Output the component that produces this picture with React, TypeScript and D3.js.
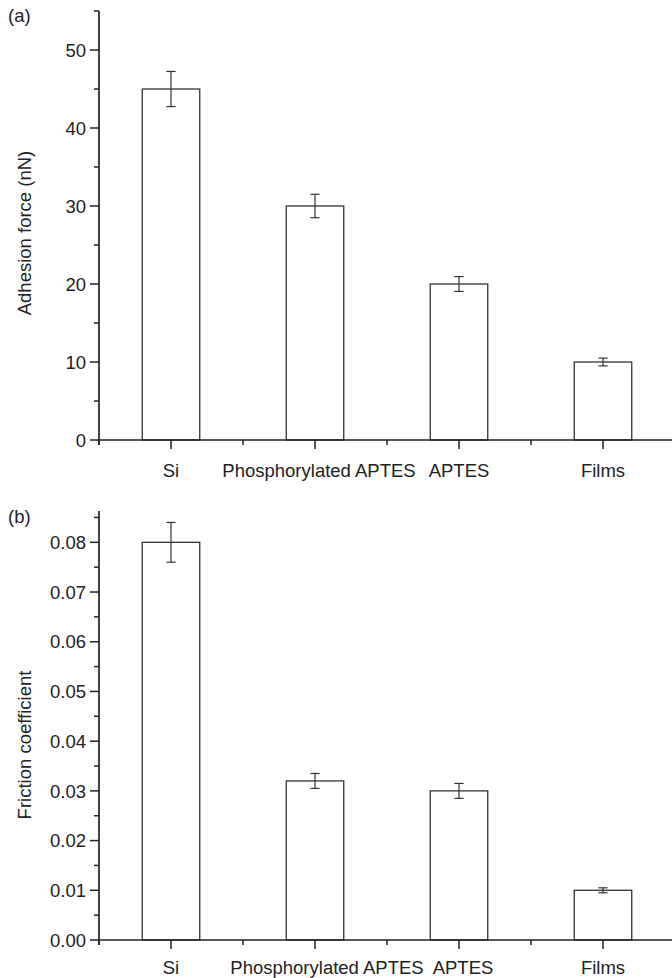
import React from "react";
import * as d3 from "d3";

const categories = ["Si", "Phosphorylated APTES", "APTES", "Films"];
const adhesionValues = [45, 30, 20, 10];
const adhesionErrors = [2.25, 1.5, 0.95, 0.5];
const frictionValues = [0.08, 0.032, 0.03, 0.01];
const frictionErrors = [0.004, 0.0015, 0.0015, 0.0005];
const adhesionTicks = [0, 10, 20, 30, 40, 50];
const adhesionMinor = [5, 15, 25, 35, 45, 55];
const frictionTicks = [0, 0.01, 0.02, 0.03, 0.04, 0.05, 0.06, 0.07, 0.08];
const frictionMinor = [0.005, 0.015, 0.025, 0.035, 0.045, 0.055, 0.065, 0.075, 0.085];

const FONT = "'Liberation Sans', Arial, Helvetica, sans-serif";
const AXIS = "#222";

type PanelProps = {
  label: string;
  yTitle: string;
  values: number[];
  errors: number[];
  ticks: number[];
  minor: number[];
  domainMax: number;
  y0: number;
  y1: number;
  fmt: (v: number) => string;
  labelY: number;
  titleY: number;
  xLabelBaseline: number;
  xLabelSize: number;
  labelDx: number[];
};

function Panel(p: PanelProps) {
  const x = d3.scaleLinear().domain([-0.5, 3.5]).range([99, 675]);
  const y = d3.scaleLinear().domain([0, p.domainMax]).range([p.y0, p.y1]);
  const bw = 57.5;
  const cap = 4.6;
  const axisX = x(-0.5);
  const xMinor = [-0.5, 0.5, 1.5, 2.5];
  return (
    <g>
      <text x={8} y={p.labelY} fontSize={18.5} fontFamily={FONT} fill={AXIS}>
        {p.label}
      </text>
      <text
        transform={`translate(31,${p.titleY}) rotate(-90)`}
        textAnchor="middle"
        fontSize={18.5}
        fontFamily={FONT}
        fill={AXIS}
      >
        {p.yTitle}
      </text>
      {p.values.map((v, i) => (
        <rect
          key={"b" + i}
          x={x(i) - bw / 2}
          y={y(v)}
          width={bw}
          height={y(0) - y(v)}
          fill="white"
          stroke="#333"
          strokeWidth={1.3}
        />
      ))}
      {p.values.map((v, i) => {
        const cx = x(i);
        const top = y(v + p.errors[i]);
        const bot = y(v - p.errors[i]);
        return (
          <g key={"e" + i} stroke="#333" strokeWidth={1.2}>
            <line x1={cx} x2={cx} y1={top} y2={bot} />
            <line x1={cx - cap} x2={cx + cap} y1={top} y2={top} />
            <line x1={cx - cap} x2={cx + cap} y1={bot} y2={bot} />
          </g>
        );
      })}
      {/* y axis */}
      <line x1={axisX} x2={axisX} y1={y(p.domainMax)} y2={y(0) + 5} stroke={AXIS} strokeWidth={1.7} />
      {p.ticks.map((t) => (
        <g key={"yt" + t}>
          <line x1={axisX - 9} x2={axisX} y1={y(t)} y2={y(t)} stroke={AXIS} strokeWidth={1.5} />
          <text
            x={axisX - 13}
            y={y(t) + 0.36 * 18.5}
            textAnchor="end"
            fontSize={18.5}
            fontFamily={FONT}
            fill={AXIS}
          >
            {p.fmt(t)}
          </text>
        </g>
      ))}
      {p.minor.map((t) => (
        <line key={"ym" + t} x1={axisX - 5} x2={axisX} y1={y(t)} y2={y(t)} stroke={AXIS} strokeWidth={1.5} />
      ))}
      {/* x axis */}
      <line x1={axisX} x2={672} y1={y(0)} y2={y(0)} stroke={AXIS} strokeWidth={1.7} />
      {categories.map((c, i) => (
        <g key={"xt" + i}>
          <line x1={x(i)} x2={x(i)} y1={y(0)} y2={y(0) + 9} stroke={AXIS} strokeWidth={1.5} />
          <text
            x={x(i) + p.labelDx[i]}
            y={p.xLabelBaseline}
            textAnchor="middle"
            fontSize={p.xLabelSize}
            fontFamily={FONT}
            fill={AXIS}
          >
            {c}
          </text>
        </g>
      ))}
      {xMinor.map((m) => (
        <line key={"xm" + m} x1={x(m)} x2={x(m)} y1={y(0)} y2={y(0) + 5} stroke={AXIS} strokeWidth={1.5} />
      ))}
    </g>
  );
}

export default function App() {
  return (
    <svg
      width={672}
      height={978}
      style={{ position: "absolute", left: 0, top: 0, background: "white" }}
    >
      <rect width={672} height={978} fill="white" />
      <Panel
        label="(a)"
        yTitle="Adhesion force (nN)"
        values={adhesionValues}
        errors={adhesionErrors}
        ticks={adhesionTicks}
        minor={adhesionMinor}
        domainMax={55}
        y0={440}
        y1={11}
        fmt={(v) => d3.format("d")(v)}
        labelY={22}
        titleY={233}
        xLabelBaseline={477}
        xLabelSize={18.5}
        labelDx={[0, 4, 0, 0]}
      />
      <Panel
        label="(b)"
        yTitle="Friction coefficient"
        values={frictionValues}
        errors={frictionErrors}
        ticks={frictionTicks}
        minor={frictionMinor}
        domainMax={0.0863}
        y0={940}
        y1={511}
        fmt={(v) => d3.format(".2f")(v)}
        labelY={523}
        titleY={745}
        xLabelBaseline={974}
        xLabelSize={18.5}
        labelDx={[0, 12, 4, 0]}
      />
    </svg>
  );
}
